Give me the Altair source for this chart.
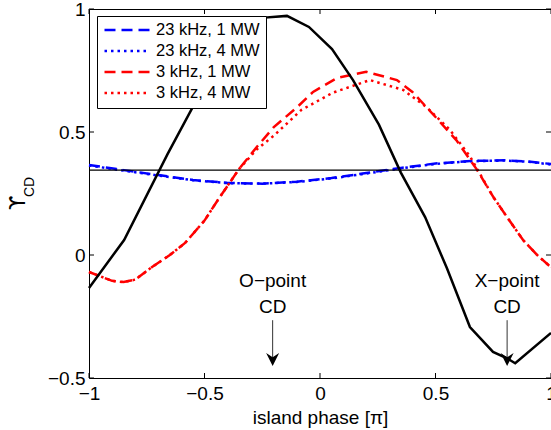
import altair as alt
import pandas as pd

W, H = 462, 369
FONT = "Liberation Sans"

series_names = ["23 kHz, 1 MW", "23 kHz, 4 MW", "3 kHz, 1 MW", "3 kHz, 4 MW"]
series_colors = ["#0000ff", "#0000ff", "#ff0000", "#ff0000"]
series_dash = [[11, 6], [2.5, 4], [11, 6], [2.5, 4]]

# 23 kHz, 1 MW
b1_x = [-1.0, -0.85, -0.7, -0.55, -0.4, -0.25, -0.1, 0.05, 0.2, 0.35, 0.5, 0.65, 0.8, 0.9, 1.0]
b1_y = [0.366, 0.345, 0.325, 0.305, 0.293, 0.290, 0.298, 0.313, 0.333, 0.354, 0.372, 0.382, 0.385, 0.380, 0.370]
# 23 kHz, 4 MW
b4_x = [-1.0, -0.85, -0.7, -0.55, -0.4, -0.25, -0.1, 0.05, 0.2, 0.35, 0.5, 0.65, 0.8, 0.9, 1.0]
b4_y = [0.364, 0.343, 0.323, 0.304, 0.292, 0.290, 0.297, 0.311, 0.331, 0.352, 0.370, 0.381, 0.384, 0.379, 0.368]
# 3 kHz, 1 MW
r1_x = [-1.0, -0.9, -0.85, -0.8, -0.727, -0.65, -0.584, -0.5, -0.442, -0.35, -0.273, -0.2, -0.1,
        -0.03, 0.074, 0.2, 0.333, 0.4, 0.5, 0.59, 0.68, 0.75, 0.82, 0.879, 0.94, 1.0]
r1_y = [-0.069, -0.105, -0.11, -0.10, -0.049, 0.0, 0.049, 0.14, 0.224, 0.35, 0.44, 0.52, 0.60,
        0.663, 0.72, 0.745, 0.711, 0.663, 0.561, 0.467, 0.346, 0.236, 0.14, 0.061, 0.0, -0.05]
# 3 kHz, 4 MW
r4_x = [-1.0, -0.9, -0.85, -0.8, -0.727, -0.65, -0.584, -0.5, -0.442, -0.35, -0.273, -0.2, -0.08,
        0.056, 0.216, 0.36, 0.463, 0.563, 0.65, 0.68, 0.75, 0.82, 0.879, 0.94, 1.0]
r4_y = [-0.069, -0.105, -0.11, -0.10, -0.049, 0.0, 0.049, 0.14, 0.224, 0.35, 0.43, 0.485, 0.59,
        0.66, 0.711, 0.671, 0.60, 0.508, 0.40, 0.35, 0.236, 0.14, 0.061, 0.0, -0.05]

# black solid curve
k_x = [-1.0, -0.848, -0.66, -0.54, -0.40, -0.24, -0.143, -0.048, 0.052, 0.143, 0.255, 0.35,
       0.455, 0.55, 0.649, 0.749, 0.81, 0.845, 1.0]
k_y = [-0.134, 0.061, 0.41, 0.62, 0.82, 0.965, 0.972, 0.927, 0.837, 0.711, 0.53, 0.335,
       0.154, -0.055, -0.293, -0.394, -0.42, -0.44, -0.317]

hline_y = [0.345]

x_ticks = [-1, -0.5, 0, 0.5, 1]
y_ticks = [-0.5, 0, 0.5, 1]

ann_x = [-0.205, 0.81]
ann_line1 = ["O−point", "X−point"]
ann_line2 = ["CD", "CD"]
ann_y1 = [-0.13, -0.13]
ann_y2 = [-0.236, -0.236]
arrow_top = [-0.265, -0.265]
arrow_bot = [-0.43, -0.43]
arrow_head = [-0.425, -0.425]

rows = []
for name, xv, yv in zip(series_names, [b1_x, b4_x, r1_x, r4_x], [b1_y, b4_y, r1_y, r4_y]):
    for i, (a, b) in enumerate(zip(xv, yv)):
        rows.append({"series": name, "x": a, "y": b, "order": i})
df = pd.DataFrame(rows)
dk = pd.DataFrame({"x": k_x, "y": k_y, "order": list(range(len(k_x)))})
dh = pd.DataFrame({"y": hline_y})
dxt = pd.DataFrame({"x": x_ticks})
dyt = pd.DataFrame({"y": y_ticks})
dann = pd.DataFrame({"x": ann_x, "t1": ann_line1, "t2": ann_line2, "y1": ann_y1, "y2": ann_y2,
                     "ytop": arrow_top, "ybot": arrow_bot, "yh": arrow_head})

xs = alt.Scale(domain=[-1, 1], nice=False, zero=False)
ys = alt.Scale(domain=[-0.5, 1], nice=False, zero=False)

xaxis = alt.Axis(values=x_ticks, format="~g", title="island phase [π]", ticks=False, domain=False, grid=False,
                 labelFontSize=19, titleFontSize=19, labelPadding=6, titlePadding=5,
                 titleFontWeight="normal", labelColor="black", titleColor="black", labelFlush=False,
                 labelOverlap=False,
                 labelExpr="datum.value < 0 ? datum.label + '\u2007' : datum.label")
yaxis = alt.Axis(values=y_ticks, format="~g", title="", ticks=False, domain=False, grid=False,
                 labelFontSize=19, labelPadding=4, labelColor="black", labelOverlap=False)


def X(f):
    return alt.X(f, type="quantitative", scale=xs, axis=xaxis)


def Y(f):
    return alt.Y(f, type="quantitative", scale=ys, axis=yaxis)


leg = alt.Legend(title=None, orient="none", legendX=8, legendY=7, fillColor="white",
                 strokeColor="black", padding=6, labelFontSize=16.5, labelFont=FONT,
                 symbolType="stroke", symbolSize=2025, symbolStrokeWidth=2.5, labelOffset=5,
                 rowPadding=4, clipHeight=16, labelColor="black")

lines = alt.Chart(df).mark_line(strokeWidth=2.5).encode(
    x=X("x"), y=Y("y"),
    color=alt.Color("series:N", scale=alt.Scale(domain=series_names, range=series_colors), legend=leg),
    strokeDash=alt.StrokeDash("series:N", scale=alt.Scale(domain=series_names, range=series_dash), legend=leg),
    detail="series:N",
    order="order:Q",
)

black = alt.Chart(dk).mark_line(strokeWidth=2.5, color="black").encode(
    x=X("x"), y=Y("y"), order="order:Q")

hline = alt.Chart(dh).mark_rule(strokeWidth=1.3, color="black").encode(y=Y("y"))

tb = alt.Chart(dxt).mark_rule(color="black", strokeWidth=1).encode(
    x=X("x"), y=alt.value(H), y2=alt.value(H - 5))
tt = alt.Chart(dxt).mark_rule(color="black", strokeWidth=1).encode(
    x=X("x"), y=alt.value(0), y2=alt.value(5))
tl = alt.Chart(dyt).mark_rule(color="black", strokeWidth=1).encode(
    y=Y("y"), x=alt.value(0), x2=alt.value(5))
tr = alt.Chart(dyt).mark_rule(color="black", strokeWidth=1).encode(
    y=Y("y"), x=alt.value(W), x2=alt.value(W - 5))

t1 = alt.Chart(dann).mark_text(fontSize=19, font=FONT, align="center", baseline="alphabetic", color="black").encode(
    x=X("x"), y=Y("y1"), text="t1:N")
t2 = alt.Chart(dann).mark_text(fontSize=19, font=FONT, align="center", baseline="alphabetic", color="black").encode(
    x=X("x"), y=Y("y2"), text="t2:N")
arr = alt.Chart(dann).mark_rule(color="#333333", strokeWidth=1).encode(
    x=X("x"), y=Y("ytop"), y2="ybot:Q")
head = alt.Chart(dann).mark_point(shape="M-1,-1L0,1L1,-1L0,-0.35Z", filled=True, size=169,
                                  color="black", opacity=1, strokeWidth=0).encode(
    x=X("x"), y=Y("yh"))

ttl1 = alt.Chart(pd.DataFrame({"t": ["ϒ"]})).mark_text(fontSize=21, font="DejaVu Sans", angle=270,
                                                         align="center", baseline="middle", color="black").encode(
    text="t:N", x=alt.value(-70), y=alt.value(194))
ttl2 = alt.Chart(pd.DataFrame({"t": ["CD"]})).mark_text(fontSize=14, font=FONT, angle=270,
                                                          align="center", baseline="middle", color="black").encode(
    text="t:N", x=alt.value(-59), y=alt.value(178))

chart = alt.layer(lines, hline, black, tb, tt, tl, tr, arr, head, t1, t2, ttl1, ttl2).properties(
    width=W, height=H,
    autosize=alt.AutoSizeParams(type="none"),
    padding={"left": 89, "top": 9, "right": 0, "bottom": 52},
).configure_view(stroke="black", strokeWidth=1).configure_axis(
    labelFont=FONT, titleFont=FONT
).configure_text(font=FONT)

chart.save("out.html", embed_options={"renderer": "svg", "actions": False})
